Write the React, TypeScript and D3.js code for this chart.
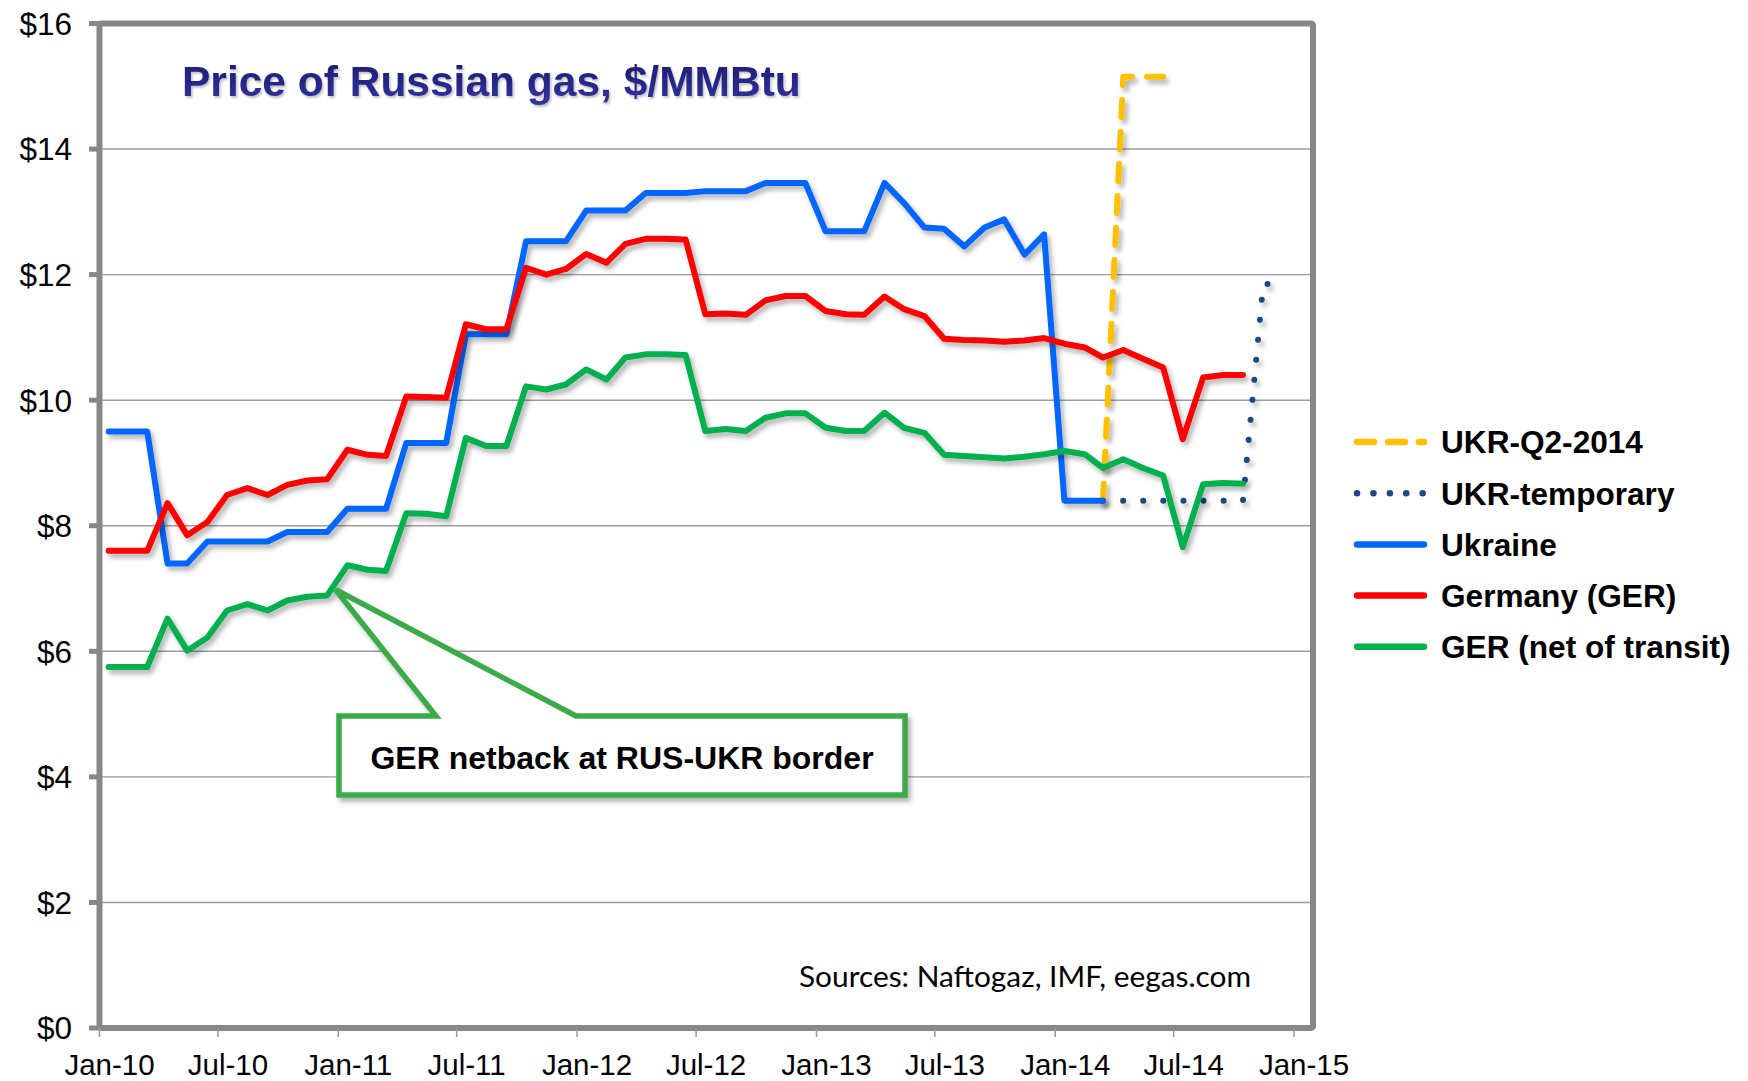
import React from "react";
import * as d3 from "d3";

// monthly prices, first point = Jan 2010 (plotted mid-month)
const firstMonth = new Date(2010, 0, 15);

const ukraine = [
  9.5, 9.5, 9.5, 7.4, 7.4, 7.75, 7.75, 7.75, 7.75, 7.9, 7.9, 7.9,
  8.27, 8.27, 8.27, 9.32, 9.32, 9.32, 11.05, 11.05, 11.05, 12.53, 12.53, 12.53,
  13.02, 13.02, 13.02, 13.3, 13.3, 13.3, 13.33, 13.33, 13.33, 13.46, 13.46, 13.46,
  12.69, 12.69, 12.69, 13.46, 13.14, 12.75, 12.73, 12.45, 12.75, 12.88, 12.32, 12.64,
  8.4, 8.4, 8.4,
];

const germany = [
  7.6, 7.6, 7.6, 8.36, 7.85, 8.06, 8.49, 8.6, 8.49, 8.65, 8.72, 8.74,
  9.21, 9.13, 9.11, 10.06, 10.05, 10.04, 11.21, 11.13, 11.13, 12.11, 12.0, 12.09,
  12.33, 12.19, 12.49, 12.57, 12.57, 12.56, 11.37, 11.38, 11.36, 11.59, 11.66, 11.66,
  11.42, 11.37, 11.36, 11.65, 11.45, 11.34, 10.98, 10.96, 10.95, 10.93, 10.95, 10.99,
  10.9, 10.84, 10.68, 10.8, 10.66, 10.52, 9.38, 10.36, 10.4, 10.4,
];

const gerNetOfTransit = [
  5.75, 5.75, 5.75, 6.52, 6.01, 6.22, 6.65, 6.75, 6.65, 6.81, 6.87, 6.89,
  7.37, 7.3, 7.28, 8.2, 8.19, 8.15, 9.4, 9.27, 9.27, 10.22, 10.17, 10.25,
  10.49, 10.33, 10.68, 10.73, 10.73, 10.72, 9.51, 9.54, 9.51, 9.72, 9.79, 9.79,
  9.56, 9.51, 9.51, 9.8, 9.56, 9.48, 9.13, 9.11, 9.09, 9.07, 9.1, 9.14,
  9.19, 9.14, 8.92, 9.06, 8.92, 8.8, 7.66, 8.66, 8.68, 8.67,
];

// both Ukraine scenarios start in Mar 2014 (month 50)
const ukrQ2 = [8.4, 15.15, 15.15, 15.15];
const ukrTemporary = [8.4, 8.4, 8.4, 8.4, 8.4, 8.4, 8.4, 8.4, 11.85, 11.85];

const yTickValues = [0, 2, 4, 6, 8, 10, 12, 14, 16];
const xTickLabels = [
  "Jan-10", "Jul-10", "Jan-11", "Jul-11", "Jan-12", "Jul-12",
  "Jan-13", "Jul-13", "Jan-14", "Jul-14", "Jan-15",
];

const series = [
  { name: "UKR-Q2-2014", values: ukrQ2, start: 50, color: "#FFC000", dash: "17 15", legendDash: "17 14" },
  { name: "UKR-temporary", values: ukrTemporary, start: 50, color: "#1F4A80", dash: "0.1 20", legendDash: "0.1 16.3" },
  { name: "Ukraine", values: ukraine, start: 0, color: "#0066FF", dash: null, legendDash: null },
  { name: "Germany (GER)", values: germany, start: 0, color: "#FF0000", dash: null, legendDash: null },
  { name: "GER (net of transit)", values: gerNetOfTransit, start: 0, color: "#00B050", dash: null, legendDash: null },
];

const App = () => {
  const width = 1748;
  const height = 1081;
  const plot = { left: 99.5, top: 23.5, right: 1313, bottom: 1028 };
  const axisFont = "Arial, 'Liberation Sans', sans-serif";

  const xScale = d3
    .scaleTime()
    .domain([new Date(2010, 0, 1), new Date(2015, 0, 1)])
    .range([plot.left, 1294]);

  const yScale = d3.scaleLinear().domain([0, 16]).range([plot.bottom, plot.top]);

  const line = d3
    .line<[number, number]>()
    .x((d) => d[0])
    .y((d) => d[1]);

  const toPoints = (values: number[], start: number): [number, number][] =>
    values.map((v, k) => [
      xScale(d3.timeMonth.offset(firstMonth, start + k)),
      yScale(v),
    ]);

  const gridLines = yTickValues
    .filter((v) => v > 0 && v < 16)
    .map((v) => (
      <line
        key={v}
        x1={plot.left}
        x2={plot.right}
        y1={yScale(v)}
        y2={yScale(v)}
        stroke="#9c9c9c"
        strokeWidth={1.4}
      />
    ));

  const yAxis = yTickValues.map((v) => (
    <g key={v}>
      <line x1={89} x2={plot.left} y1={yScale(v)} y2={yScale(v)} stroke="#878787" strokeWidth={5} />
      <text
        x={72}
        y={yScale(v)}
        dy="0.36em"
        textAnchor="end"
        fontFamily={axisFont}
        fontSize={31.5}
        fill="#000"
      >
        ${v}
      </text>
    </g>
  ));

  const xAxis = xTickLabels.map((label, k) => {
    const tx = xScale(d3.timeMonth.offset(new Date(2010, 0, 1), k * 6));
    return (
      <g key={label}>
        <line x1={tx} x2={tx} y1={plot.bottom} y2={plot.bottom + 9} stroke="#999" strokeWidth={1.5} />
        <text
          x={tx + 10}
          y={1075}
          textAnchor="middle"
          fontFamily={axisFont}
          fontSize={29.5}
          fill="#000"
        >
          {label}
        </text>
      </g>
    );
  });

  const paths = series.map((s) => (
    <path
      key={s.name}
      d={line(toPoints(s.values, s.start)) || ""}
      fill="none"
      stroke={s.color}
      strokeWidth={6}
      strokeLinejoin="round"
      strokeLinecap="round"
      strokeDasharray={s.dash || undefined}
      filter="url(#lineShadow)"
    />
  ));

  // callout pointing at the Dec-10 netback
  const tipX = xScale(new Date(2010, 11, 28));
  const tipY = yScale(6.98);
  const box = { left: 339, right: 905, top: 716, bottom: 795 };
  const callout = `M${box.left},${box.top} L436,${box.top} L${tipX},${tipY} L576,${box.top} L${box.right},${box.top} L${box.right},${box.bottom} L${box.left},${box.bottom} Z`;

  const legendRow0 = 442;
  const legendStep = 51.2;
  const legend = series.map((s, k) => {
    const ly = legendRow0 + k * legendStep;
    return (
      <g key={s.name}>
        <line
          x1={1357}
          x2={1424}
          y1={ly}
          y2={ly}
          stroke={s.color}
          strokeWidth={6.5}
          strokeLinecap="round"
          strokeDasharray={s.legendDash || undefined}
        />
        <text
          x={1441}
          y={ly}
          dy="0.36em"
          fontFamily={axisFont}
          fontWeight="bold"
          fontSize={31.6}
          fill="#000"
        >
          {s.name}
        </text>
      </g>
    );
  });

  return (
    <svg
      width={width}
      height={height}
      style={{ position: "absolute", left: 0, top: 0, background: "#fff" }}
    >
      <defs>
        <filter id="lineShadow" filterUnits="userSpaceOnUse" x={0} y={0} width={width} height={height}>
          <feDropShadow dx={3} dy={4} stdDeviation={2.5} floodColor="#000" floodOpacity={0.3} />
        </filter>
        <filter id="textShadow" filterUnits="userSpaceOnUse" x={0} y={0} width={width} height={height}>
          <feDropShadow dx={1.5} dy={2} stdDeviation={1.2} floodColor="#000" floodOpacity={0.25} />
        </filter>
        <linearGradient id="titleGrad" x1="0" y1="0" x2="0" y2="1">
          <stop offset="0%" stopColor="#1a1a6e" />
          <stop offset="100%" stopColor="#3434a0" />
        </linearGradient>
      </defs>
      <rect x={0} y={0} width={width} height={height} fill="#fff" />
      <g>{gridLines}</g>
      <rect
        x={plot.left}
        y={plot.top}
        width={plot.right - plot.left}
        height={plot.bottom - plot.top}
        fill="none"
        stroke="#878787"
        strokeWidth={6}
        rx={2}
      />
      <g>{yAxis}</g>
      <g>{xAxis}</g>
      <text
        x={182}
        y={96}
        fontFamily={axisFont}
        fontWeight="bold"
        fontSize={42.5}
        fill="url(#titleGrad)"
        filter="url(#textShadow)"
      >
        Price of Russian gas, $/MMBtu
      </text>
      <g>{paths}</g>
      <path
        d={callout}
        fill="#fff"
        stroke="#3AAA48"
        strokeWidth={5.5}
        strokeLinejoin="miter"
        filter="url(#lineShadow)"
      />
      <text
        x={(box.left + box.right) / 2}
        y={769}
        textAnchor="middle"
        fontFamily={axisFont}
        fontWeight="bold"
        fontSize={32}
        fill="#000"
      >
        GER netback at RUS-UKR border
      </text>
      <text
        x={799}
        y={987}
        fontFamily="Lato, 'Open Sans', sans-serif"
        fontSize={28}
        textLength={452}
        lengthAdjust="spacingAndGlyphs"
        fill="#000"
      >
        Sources: Naftogaz, IMF, eegas.com
      </text>
      <g>{legend}</g>
    </svg>
  );
};

export default App;
